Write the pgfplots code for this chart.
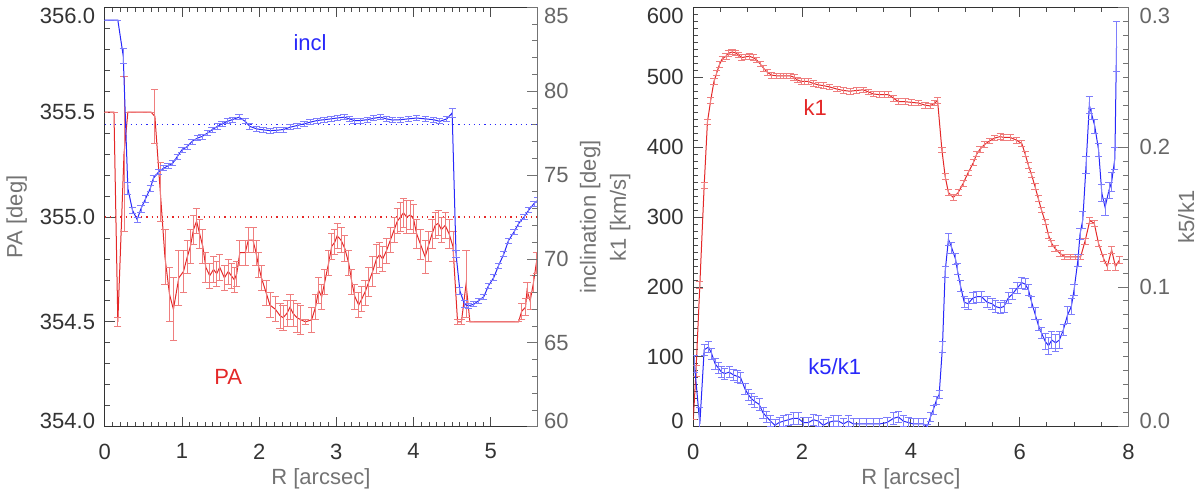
\documentclass[border=0pt]{standalone}
\usepackage{fontspec}
\setmainfont{Liberation Sans}
\usepackage{pgfplots}
\usepackage{pgfplotstable}
\pgfplotsset{compat=1.18}

\definecolor{pared}{RGB}{228,40,40}
\definecolor{pablue}{RGB}{40,40,250}

% PA profile: R, PA, error
\pgfplotstableread{
R v e
0.00 355.50 0
0.12 355.50 0
0.17 354.50 0.02
0.25 355.30 0.37
0.30 355.50 0
0.45 355.50 0
0.60 355.50 0
0.65 355.48 0.13
0.72 355.12 0.14
0.78 354.81 0.13
0.84 354.63 0.13
0.89 354.56 0.15
0.96 354.71 0.13
1.02 354.74 0.10
1.07 354.81 0.08
1.11 354.86 0.08
1.15 354.94 0.07
1.19 354.98 0.06
1.23 354.92 0.07
1.27 354.86 0.08
1.31 354.76 0.07
1.36 354.72 0.06
1.41 354.75 0.06
1.45 354.73 0.06
1.49 354.76 0.06
1.55 354.71 0.06
1.60 354.74 0.06
1.64 354.72 0.06
1.68 354.70 0.06
1.71 354.73 0.06
1.75 354.83 0.06
1.82 354.83 0.06
1.86 354.89 0.06
1.92 354.89 0.06
1.96 354.83 0.06
1.99 354.77 0.06
2.03 354.71 0.06
2.09 354.64 0.06
2.14 354.58 0.06
2.21 354.56 0.06
2.27 354.53 0.06
2.31 354.52 0.06
2.36 354.54 0.06
2.40 354.57 0.06
2.44 354.54 0.06
2.49 354.52 0.07
2.54 354.51 0.07
2.60 354.50 0.01
2.68 354.51 0.06
2.73 354.57 0.06
2.77 354.65 0.06
2.81 354.62 0.06
2.85 354.69 0.06
2.90 354.78 0.06
2.94 354.86 0.06
2.98 354.88 0.06
3.01 354.91 0.06
3.06 354.89 0.06
3.11 354.85 0.06
3.16 354.78 0.06
3.20 354.69 0.06
3.24 354.62 0.06
3.29 354.58 0.06
3.33 354.61 0.06
3.37 354.64 0.06
3.42 354.69 0.07
3.47 354.74 0.07
3.52 354.80 0.07
3.56 354.82 0.06
3.60 354.80 0.06
3.65 354.84 0.06
3.70 354.89 0.06
3.75 354.94 0.06
3.79 354.98 0.06
3.83 355.00 0.07
3.87 355.02 0.07
3.91 355.00 0.08
3.96 355.01 0.07
4.00 354.99 0.07
4.04 354.92 0.07
4.09 354.87 0.07
4.15 354.81 0.08
4.19 354.86 0.07
4.24 354.92 0.07
4.28 354.96 0.06
4.32 354.97 0.06
4.36 354.94 0.06
4.41 354.96 0.06
4.46 354.92 0.07
4.51 354.86 0.07
4.57 354.50 0.01
4.62 354.50 0.01
4.68 354.68 0.16
4.73 354.50 0
5.36 354.50 0
5.40 354.55 0.04
5.45 354.57 0.04
5.47 354.65 0.04
5.51 354.60 0.04
5.55 354.68 0.04
5.59 354.78 0.05
5.64 354.86 0.05
}\patable

% inclination profile: R, incl, error
\pgfplotstableread{
R v e
0.00 84.24 0
0.17 84.24 0
0.24 82.10 0.45
0.30 74.20 0.35
0.36 72.90 0.20
0.42 72.35 0.15
0.47 73.00 0.20
0.53 73.60 0.20
0.59 74.20 0.20
0.63 74.80 0.20
0.70 75.20 0.15
0.76 75.40 0.15
0.82 75.55 0.15
0.88 75.70 0.15
0.94 76.10 0.15
1.00 76.50 0.15
1.07 76.70 0.15
1.13 77.00 0.15
1.20 77.20 0.15
1.26 77.30 0.15
1.33 77.50 0.15
1.39 77.70 0.15
1.46 77.90 0.15
1.52 78.05 0.15
1.59 78.20 0.15
1.65 78.30 0.15
1.74 78.45 0.15
1.82 78.20 0.15
1.88 77.90 0.15
1.97 77.75 0.15
2.05 77.70 0.15
2.14 77.65 0.15
2.23 77.67 0.15
2.32 77.72 0.15
2.40 77.85 0.15
2.49 77.95 0.15
2.58 78.05 0.15
2.66 78.15 0.15
2.75 78.25 0.15
2.84 78.30 0.15
2.93 78.35 0.15
3.01 78.40 0.15
3.10 78.45 0.15
3.17 78.35 0.15
3.23 78.25 0.15
3.31 78.25 0.15
3.40 78.30 0.15
3.48 78.38 0.15
3.57 78.45 0.15
3.65 78.35 0.15
3.73 78.28 0.15
3.83 78.30 0.15
3.93 78.35 0.15
4.04 78.40 0.15
4.15 78.35 0.15
4.26 78.30 0.15
4.34 78.20 0.15
4.43 78.35 0.15
4.50 78.70 0.25
4.55 70.30 0.20
4.60 68.10 0.20
4.66 67.30 0.20
4.71 67.20 0.15
4.78 67.30 0.15
4.84 67.50 0.15
4.91 67.75 0.15
4.97 68.40 0.15
5.04 68.90 0.15
5.10 69.60 0.15
5.17 70.30 0.15
5.23 71.10 0.15
5.30 71.60 0.15
5.36 72.10 0.15
5.43 72.50 0.15
5.49 72.90 0.15
5.56 73.30 0.15
5.61 73.50 0.15
}\incltable

% k1 profile: R, k1, error
\pgfplotstableread{
R v e
0.00 10 0
0.05 80 8
0.12 203 5
0.20 345 4
0.26 436 4
0.32 467 4
0.38 494 4
0.43 506 4
0.48 518 4
0.53 526 4
0.60 530 4
0.64 534 4
0.71 536 4
0.77 535 4
0.83 532 4
0.89 528 4
0.95 529 4
1.03 530 4
1.10 528 4
1.16 525 4
1.23 519 4
1.29 513 4
1.36 507 4
1.44 503 4
1.53 502 4
1.60 502 4
1.66 502 4
1.72 502 4
1.78 502 4
1.85 500 4
1.91 496 4
1.99 494 4
2.05 494 4
2.11 494 4
2.21 491 4
2.30 489 4
2.39 488 4
2.51 486 4
2.64 483 4
2.76 481 4
2.88 480 4
3.00 481 4
3.12 482 4
3.22 479 4
3.31 476 4
3.43 475 4
3.51 475 4
3.59 475 4
3.68 470 4
3.77 465 4
3.89 465 4
4.01 464 4
4.14 463 4
4.26 460 4
4.35 459 4
4.44 463 4
4.49 467 4
4.57 396 4
4.63 358 4
4.69 335 4
4.78 328 4
4.87 335 4
4.96 348 4
5.05 363 4
5.15 378 4
5.21 390 4
5.27 397 4
5.36 404 4
5.45 409 4
5.54 413 4
5.64 415 4
5.70 414 4
5.82 414 4
5.94 410 4
6.04 405 4
6.10 390 4
6.16 374 4
6.22 360 4
6.28 344 4
6.34 327 4
6.40 310 4
6.47 293 4
6.53 274 4
6.59 262 4
6.65 255 4
6.74 248 4
6.83 243 4
6.93 243 4
7.03 243 4
7.12 243 4
7.20 265 4
7.29 295 4
7.37 291 4
7.45 262 4
7.54 241 5
7.61 229 5
7.69 253 5
7.76 229 5
7.83 238 5
}\konetable

% k5/k1 profile: R, k5/k1, error
\pgfplotstableread{
R v e
0.02 0.045 0.006
0.12 0.002 0.012
0.20 0.055 0.004
0.28 0.057 0.004
0.34 0.052 0.004
0.40 0.045 0.004
0.46 0.042 0.004
0.52 0.039 0.004
0.58 0.038 0.004
0.66 0.039 0.004
0.74 0.037 0.004
0.81 0.036 0.004
0.87 0.035 0.004
0.95 0.027 0.004
1.01 0.023 0.004
1.07 0.020 0.004
1.13 0.018 0.004
1.21 0.016 0.004
1.28 0.010 0.004
1.35 0.007 0.004
1.42 0.004 0.004
1.50 0.001 0.004
1.58 0.003 0.004
1.66 0.004 0.004
1.75 0.005 0.004
1.84 0.006 0.004
1.93 0.006 0.004
2.02 0.003 0.004
2.12 0.003 0.004
2.21 0.005 0.004
2.30 0.004 0.004
2.39 0.001 0.004
2.48 0.003 0.004
2.57 0.004 0.004
2.67 0.004 0.004
2.76 0.002 0.004
2.85 0.004 0.004
2.94 0.002 0.004
3.06 0.002 0.004
3.19 0.002 0.004
3.31 0.002 0.004
3.43 0.002 0.004
3.56 0.003 0.004
3.68 0.006 0.004
3.77 0.007 0.004
3.86 0.004 0.004
3.95 0.003 0.004
4.04 0.002 0.004
4.14 0.002 0.004
4.23 0.002 0.004
4.30 0.000 0.002
4.36 0.007 0.003
4.41 0.012 0.003
4.47 0.019 0.003
4.52 0.023 0.003
4.58 0.057 0.004
4.63 0.111 0.004
4.69 0.134 0.004
4.75 0.128 0.004
4.82 0.120 0.004
4.85 0.113 0.004
4.91 0.101 0.004
4.98 0.089 0.004
5.05 0.088 0.004
5.14 0.092 0.004
5.21 0.093 0.004
5.30 0.093 0.004
5.40 0.089 0.004
5.49 0.088 0.004
5.55 0.086 0.004
5.64 0.085 0.004
5.71 0.086 0.004
5.79 0.092 0.004
5.87 0.095 0.004
5.95 0.099 0.004
6.04 0.103 0.004
6.10 0.102 0.004
6.16 0.098 0.004
6.22 0.089 0.004
6.28 0.081 0.004
6.34 0.073 0.004
6.40 0.067 0.004
6.47 0.061 0.006
6.53 0.058 0.006
6.59 0.062 0.006
6.66 0.060 0.006
6.73 0.062 0.006
6.80 0.069 0.004
6.88 0.080 0.006
6.95 0.086 0.006
7.00 0.098 0.004
7.07 0.119 0.004
7.11 0.138 0.004
7.16 0.148 0.006
7.22 0.187 0.006
7.28 0.230 0.006
7.32 0.224 0.004
7.38 0.215 0.005
7.45 0.198 0.005
7.51 0.167 0.006
7.57 0.157 0.006
7.64 0.169 0.006
7.69 0.175 0.007
7.75 0.192 0.008
7.78 0.272 0.018
}\kfivetable

% tick labels at the ends of an axis sit inside the box, as in the original
\newcommand{\up}[1]{\raisebox{3pt}[\height][\depth]{#1}}
\newcommand{\dn}[1]{\raisebox{-4.5pt}[\height][\depth]{#1}}

\pgfplotsset{
  panel/.style={
    scale only axis,
    height=209.7pt,
    anchor=south west,
    tick align=inside,
    major tick length=5pt,
    minor tick length=2.5pt,
    every tick/.style={black!70, line width=0.4pt},
    axis line style={line width=0.5pt},
    /pgf/number format/assume math mode=true,
    tick label style={font=\fontsize{11}{13}\selectfont},
    label style={font=\fontsize{11}{13}\selectfont, text=black!55},
    clip=true,
  },
  leftside/.style={
    panel,
    axis y line*=left,
    axis line style={black!80},
    ticklabel style={text=black!80},
    xticklabel style={yshift=-5pt},
    yticklabel style={xshift=-1.3pt},
    xlabel style={at={(axis description cs:0.5,-0.125)}, anchor=center},
  },
  rightside/.style={
    panel,
    axis y line*=right,
    axis x line=none,
    axis line style={black!55},
    every tick/.style={black!55, line width=0.4pt},
    ticklabel style={text=black!60},
  },
  prof/.style={no markers, line width=0.5pt, #1,
    error bars/.cd, y dir=both, y explicit,
    error bar style={line width=0.4pt, #1!60},
    error mark options={rotate=90, mark size=1.8pt, line width=0.4pt, #1!60}},
}

\begin{document}
\begin{tikzpicture}
\useasboundingbox (0,0) rectangle (600pt,246.5pt);

% ---- left panel: PA and inclination ----
\begin{axis}[leftside, at={(52.35pt,33.15pt)}, width=216.2pt,
    xmin=0, xmax=5.6, ymin=354, ymax=356,
    xtick={0,1,...,5}, minor x tick num=9,
    ytick={354,354.5,355,355.5,356}, minor y tick num=4,
    yticklabels={\up{354.0},354.5,355.0,355.5,\dn{356.0}},
    xlabel={R [arcsec]}, ylabel={PA [deg]},
    ylabel style={at={(axis description cs:-0.2035,0.5)}, anchor=center}]
  \addplot[pared, dotted, line width=0.6pt] coordinates {(0,355) (5.6,355)};
  \addplot[prof=pared] table[x=R, y=v, y error=e] {\patable};
  \node[text=pared, font=\fontsize{11}{13}\selectfont] at (axis cs:1.6,354.235) {PA};
\end{axis}
\begin{axis}[rightside, at={(52.35pt,33.15pt)}, width=216.2pt,
    xmin=0, xmax=5.6, ymin=60, ymax=85,
    ytick={60,65,...,85}, minor y tick num=4,
    yticklabels={\up{60},65,70,75,80,\dn{85}},
    ylabel={inclination [deg]},
    ylabel style={at={(axis description cs:1.123,0.5)}, anchor=center}]
  \addplot[pablue, dotted, line width=0.6pt] coordinates {(0,78) (5.6,78)};
  \addplot[prof=pablue] table[x=R, y=v, y error=e] {\incltable};
  \node[text=pablue, font=\fontsize{11}{13}\selectfont] at (axis cs:2.66,82.9) {incl};
\end{axis}

% ---- right panel: k1 and k5/k1 ----
\begin{axis}[leftside, at={(346.65pt,33.15pt)}, width=217.6pt,
    xmin=0, xmax=8, ymin=0, ymax=600,
    xtick={0,2,...,8}, minor x tick num=3,
    ytick={0,100,...,600}, minor y tick num=9,
    yticklabels={\up{0},100,200,300,400,500,\dn{600}},
    xlabel={R [arcsec]}, ylabel={k1 [km/s]},
    ylabel style={at={(axis description cs:-0.168,0.5)}, anchor=center}]
  \addplot[prof=pared] table[x=R, y=v, y error=e] {\konetable};
  \node[text=pared, font=\fontsize{11}{13}\selectfont] at (axis cs:2.24,457) {k1};
\end{axis}
\begin{axis}[rightside, at={(346.65pt,33.15pt)}, width=217.6pt,
    xmin=0, xmax=8, ymin=0, ymax=0.3,
    ytick={0,0.1,0.2,0.3}, minor y tick num=9,
    yticklabels={\up{0.0},0.1,0.2,\dn{0.3}},
    yticklabel style={xshift=2pt},
    ylabel={k5/k1},
    ylabel style={at={(axis description cs:1.133,0.5)}, anchor=center}]
  \addplot[prof=pablue] table[x=R, y=v, y error=e] {\kfivetable};
  \node[text=pablue, font=\fontsize{11}{13}\selectfont] at (axis cs:2.6,0.0427) {k5/k1};
\end{axis}
\end{tikzpicture}
\end{document}
